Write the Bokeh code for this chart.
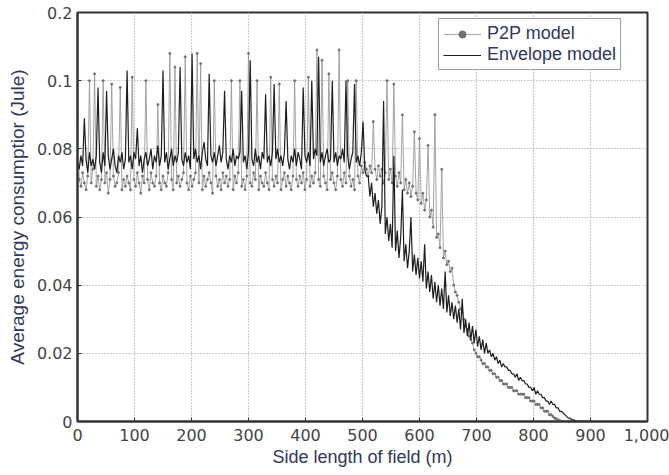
from bokeh.plotting import figure
from bokeh.models import FixedTicker, Legend, LegendItem
from bokeh.embed import file_html
from bokeh.resources import INLINE

# Side length of field (m), sampled every 3 m
side_length = list(range(0, 903, 3))

# Envelope model (dark line)
envelope = [
    0.076, 0.074, 0.078, 0.075, 0.089, 0.077, 0.073, 0.079, 0.075, 0.077,
    0.074, 0.078, 0.098, 0.076, 0.073, 0.079, 0.075, 0.097, 0.078, 0.074,
    0.077, 0.080, 0.075, 0.073, 0.078, 0.076, 0.079, 0.074, 0.077, 0.103,
    0.076, 0.078, 0.074, 0.079, 0.077, 0.086, 0.075, 0.078, 0.073, 0.077,
    0.079, 0.075, 0.077, 0.080, 0.074, 0.078, 0.076, 0.081, 0.075, 0.078,
    0.103, 0.076, 0.079, 0.074, 0.077, 0.080, 0.075, 0.078, 0.076, 0.079,
    0.104, 0.077, 0.075, 0.079, 0.076, 0.078, 0.074, 0.108, 0.077, 0.080,
    0.076, 0.078, 0.074, 0.079, 0.082, 0.077, 0.075, 0.102, 0.078, 0.076,
    0.079, 0.075, 0.078, 0.081, 0.076, 0.079, 0.097, 0.077, 0.074, 0.078,
    0.076, 0.080, 0.075, 0.078, 0.077, 0.079, 0.097, 0.076, 0.078, 0.074,
    0.079, 0.106, 0.077, 0.075, 0.080, 0.076, 0.078, 0.074, 0.079, 0.077,
    0.096, 0.076, 0.078, 0.075, 0.079, 0.099, 0.077, 0.080, 0.076, 0.078,
    0.075, 0.079, 0.094, 0.077, 0.074, 0.078, 0.076, 0.080, 0.075, 0.079,
    0.077, 0.074, 0.098, 0.078, 0.076, 0.079, 0.075, 0.100, 0.077, 0.080,
    0.078, 0.107, 0.076, 0.079, 0.075, 0.078, 0.080, 0.076, 0.077, 0.100,
    0.076, 0.079, 0.075, 0.078, 0.077, 0.080, 0.076, 0.100, 0.078, 0.074,
    0.077, 0.079, 0.099, 0.076, 0.078, 0.075, 0.079, 0.088, 0.074, 0.072,
    0.072, 0.066, 0.070, 0.063, 0.067, 0.061, 0.065, 0.058, 0.063, 0.094,
    0.055, 0.060, 0.053, 0.058, 0.051, 0.078, 0.050, 0.056, 0.048, 0.054,
    0.068, 0.047, 0.052, 0.045, 0.050, 0.060, 0.044, 0.049, 0.043, 0.048,
    0.042, 0.047, 0.041, 0.052, 0.039, 0.044, 0.038, 0.043, 0.036, 0.041,
    0.035, 0.040, 0.034, 0.039, 0.033, 0.044, 0.032, 0.037, 0.031, 0.035,
    0.030, 0.034, 0.029, 0.033, 0.027, 0.036, 0.026, 0.030, 0.025, 0.029,
    0.024, 0.028, 0.023, 0.027, 0.022, 0.025, 0.021, 0.024, 0.020, 0.023,
    0.020, 0.021, 0.019, 0.020, 0.018, 0.019, 0.017, 0.018, 0.016, 0.017,
    0.016, 0.016, 0.015, 0.015, 0.014, 0.014, 0.013, 0.014, 0.012, 0.013,
    0.012, 0.012, 0.011, 0.011, 0.010, 0.010, 0.009, 0.010, 0.008, 0.009,
    0.008, 0.008, 0.007, 0.007, 0.006, 0.006, 0.005, 0.006, 0.005, 0.005,
    0.004, 0.004, 0.003, 0.003, 0.0025, 0.002, 0.0015, 0.001, 0.001, 0.0005,
    0.0005, 0.0003, 0.0, 0.0, 0.0, 0.0, 0.0, 0.0, 0.0, 0.0,
    0.0,
]

# P2P model (grey line with dots)
p2p = [
    0.090, 0.071, 0.069, 0.073, 0.070, 0.068, 0.072, 0.100, 0.070, 0.074,
    0.102, 0.069, 0.072, 0.068, 0.071, 0.100, 0.070, 0.073, 0.067, 0.071,
    0.099, 0.072, 0.069, 0.070, 0.073, 0.098, 0.068, 0.071, 0.069, 0.072,
    0.070, 0.068, 0.101, 0.071, 0.069, 0.073, 0.070, 0.067, 0.072, 0.070,
    0.100, 0.071, 0.068, 0.073, 0.070, 0.069, 0.072, 0.093, 0.070, 0.068,
    0.072, 0.070, 0.069, 0.073, 0.108, 0.071, 0.068, 0.104, 0.070, 0.072,
    0.069, 0.071, 0.073, 0.107, 0.070, 0.068, 0.072, 0.069, 0.071, 0.073,
    0.108, 0.070, 0.105, 0.068, 0.072, 0.069, 0.071, 0.073, 0.070, 0.067,
    0.100, 0.072, 0.069, 0.071, 0.068, 0.073, 0.070, 0.072, 0.069, 0.071,
    0.100, 0.068, 0.072, 0.070, 0.073, 0.100, 0.069, 0.071, 0.068, 0.072,
    0.108, 0.070, 0.069, 0.073, 0.071, 0.100, 0.068, 0.072, 0.070, 0.069,
    0.073, 0.070, 0.068, 0.101, 0.071, 0.069, 0.072, 0.070, 0.099, 0.068,
    0.071, 0.073, 0.069, 0.072, 0.070, 0.068, 0.072, 0.100, 0.071, 0.069,
    0.072, 0.070, 0.073, 0.068, 0.071, 0.101, 0.069, 0.072, 0.070, 0.073,
    0.109, 0.071, 0.069, 0.106, 0.072, 0.070, 0.068, 0.102, 0.071, 0.073,
    0.070, 0.068, 0.072, 0.109, 0.071, 0.069, 0.073, 0.070, 0.100, 0.072,
    0.069, 0.071, 0.068, 0.100, 0.072, 0.070, 0.075, 0.073, 0.076, 0.074,
    0.072, 0.075, 0.073, 0.088, 0.074, 0.071, 0.075, 0.072, 0.074, 0.070,
    0.073, 0.100, 0.071, 0.074, 0.070, 0.099, 0.072, 0.069, 0.073, 0.070,
    0.090, 0.068, 0.071, 0.067, 0.070, 0.066, 0.069, 0.085, 0.067, 0.065,
    0.083, 0.064, 0.067, 0.062, 0.065, 0.081, 0.060, 0.062, 0.057, 0.090,
    0.054, 0.055, 0.051, 0.074, 0.048, 0.050, 0.046, 0.047, 0.044, 0.045,
    0.040, 0.038, 0.037, 0.035, 0.033, 0.032, 0.030, 0.028, 0.027, 0.025,
    0.024, 0.023, 0.021, 0.020, 0.019, 0.019, 0.018, 0.017, 0.017, 0.016,
    0.016, 0.015, 0.015, 0.014, 0.014, 0.013, 0.013, 0.012, 0.012, 0.011,
    0.011, 0.011, 0.010, 0.010, 0.010, 0.009, 0.009, 0.009, 0.008, 0.008,
    0.008, 0.008, 0.007, 0.007, 0.007, 0.006, 0.006, 0.006, 0.005, 0.005,
    0.005, 0.004, 0.004, 0.003, 0.003, 0.003, 0.002, 0.002, 0.0015, 0.001,
    0.0008, 0.0005, 0.0003, 0.0, 0.0, 0.0, 0.0, 0.0, 0.0, 0.0,
    0.0, 0.0, 0.0, 0.0, 0.0, 0.0, 0.0, 0.0, 0.0, 0.0,
    0.0,
]

x_ticks = [0, 100, 200, 300, 400, 500, 600, 700, 800, 900, 1000]
x_tick_labels = ["0", "100", "200", "300", "400", "500", "600", "700", "800", "900", "1,000"]
y_ticks = [0, 0.02, 0.04, 0.06, 0.08, 0.10, 0.12]
y_tick_labels = ["0", "0.02", "0.04", "0.06", "0.08", "0.1", "0.2"]

p = figure(width=669, height=475, x_range=(0, 1000), y_range=(0, 0.12),
           output_backend="svg", toolbar_location=None,
           min_border_left=77, min_border_right=22, min_border_top=12, min_border_bottom=54)

grey_line = p.line(side_length, p2p, line_color="#9a9a9a", line_width=0.9)
grey_dots = p.scatter(side_length, p2p, size=2, marker="circle",
                      fill_color="#707070", line_color="#707070")
dark_line = p.line(side_length, envelope, line_color="#1e1e1e", line_width=1.2)

p.xaxis.ticker = FixedTicker(ticks=x_ticks)
p.yaxis.ticker = FixedTicker(ticks=y_ticks)
p.xaxis.major_label_overrides = {t: l for t, l in zip(x_ticks, x_tick_labels)}
p.yaxis.major_label_overrides = {t: l for t, l in zip(y_ticks, y_tick_labels)}

for ax in (p.xaxis, p.yaxis):
    ax.major_label_text_font = "DejaVu Sans"
    ax.major_label_text_font_size = "16px"
    ax.major_label_text_color = "#444444"
    ax.axis_line_color = "#333333"
    ax.axis_line_width = 2
    ax.major_tick_in = 4
    ax.major_tick_out = 0
    ax.minor_tick_line_color = None
    ax.major_tick_line_color = "#333333"
    ax.axis_label_text_font = "Liberation Sans"
    ax.axis_label_text_font_style = "normal"
    ax.axis_label_text_color = "#2e3860"

p.xaxis.axis_label = "Side length of field (m)"
p.yaxis.axis_label = "Average energy consumptior (Jule)"
p.xaxis.axis_label_text_font_size = "18px"
p.yaxis.axis_label_text_font_size = "19px"
p.xaxis.axis_label_standoff = 3
p.yaxis.axis_label_standoff = 6
p.xaxis.major_label_standoff = 7
p.yaxis.major_label_standoff = 5

p.xgrid.grid_line_color = "#9a9a9a"
p.ygrid.grid_line_color = "#9a9a9a"
p.xgrid.grid_line_dash = "1 2"
p.ygrid.grid_line_dash = "1 2"
p.xgrid.grid_line_width = 1.2
p.ygrid.grid_line_width = 1.2

p.outline_line_color = "#333333"
p.outline_line_width = 2
p.outline_line_alpha = 1

legend = Legend(items=[
    LegendItem(label="P2P model", renderers=[grey_line, grey_dots]),
    LegendItem(label="Envelope model", renderers=[dark_line]),
], location=(361, 351))
legend.label_text_font = "Liberation Sans"
legend.label_text_font_size = "18px"
legend.label_text_color = "#2e3860"
legend.glyph_width = 38
legend.glyph_height = 18
legend.label_height = 18
legend.spacing = 0
legend.padding = 4
legend.margin = 0
legend.label_standoff = 6
legend.border_line_color = "#444444"
legend.border_line_width = 1.5
legend.background_fill_alpha = 1
p.add_layout(legend, "center")

p.background_fill_color = "white"
p.border_fill_color = "white"

open("out.html", "w").write(file_html(p, INLINE))
